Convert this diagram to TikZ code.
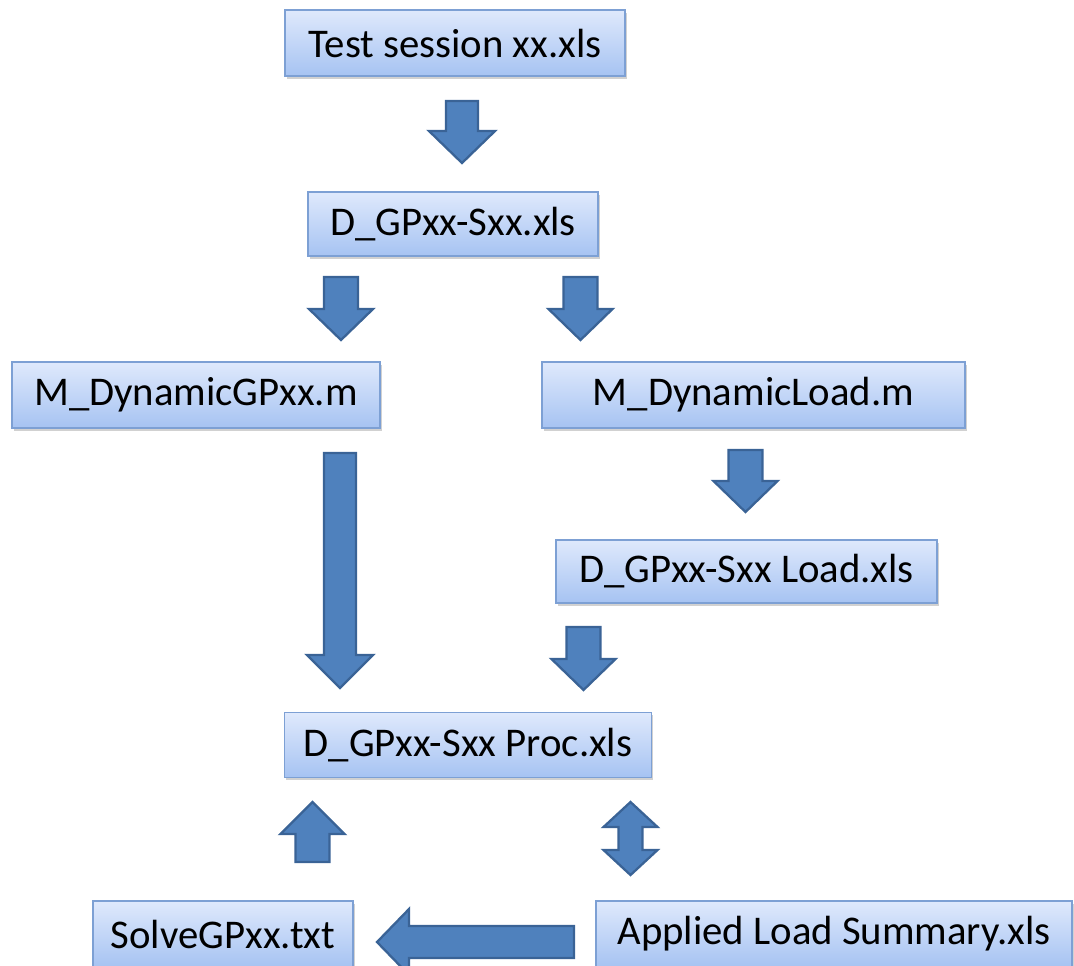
\documentclass[tikz,border=0pt]{standalone}
\usepackage{fontspec}
\setmainfont{Carlito}
\usetikzlibrary{shadows}
\definecolor{boxtop}{HTML}{DFE9FC}
\definecolor{boxbot}{HTML}{A6C3F2}
\definecolor{boxline}{HTML}{7DA0D4}
\definecolor{arrfill}{HTML}{4F81BD}
\definecolor{arrline}{HTML}{3A6396}
\tikzset{
  filebox/.style={draw=boxline, line width=0.8pt, top color=boxtop, bottom color=boxbot,
    inner sep=0pt, font=\fontsize{23.2}{28}\selectfont,
    drop shadow={shadow xshift=1pt, shadow yshift=-1.6pt, opacity=0.3, fill=black!60}},
  arrowbody/.style={fill=arrfill, draw=arrline, line width=1.3pt, line join=miter},
  pics/barrow/.style n args={4}{code={
    \filldraw[arrowbody] (0,-#2) -- (#1-#4,-#2) -- (#1-#4,-#3) -- (#1,0) -- (#1-#4,#3) -- (#1-#4,#2) -- (0,#2) -- cycle;}},
  pics/dbarrow/.style n args={4}{code={
    \filldraw[arrowbody] (0,0) -- (#4,-#3) -- (#4,-#2) -- (#1-#4,-#2) -- (#1-#4,-#3) -- (#1,0) -- (#1-#4,#3) -- (#1-#4,#2) -- (#4,#2) -- (#4,#3) -- cycle;}}
}
\begin{document}
\begin{tikzpicture}[x=0.02cm,y=-0.02cm]
\useasboundingbox (0,0) rectangle (1074,965);
\clip (0,0) rectangle (1074,965);
% boxes
\node[filebox, minimum width=6.8cm, minimum height=1.32cm] (t1) at (455,43) {Test session xx.xls};
\node[filebox, minimum width=5.8cm, minimum height=1.28cm] (t2) at (453,224) {D\_GPxx-Sxx.xls};
\node[filebox, minimum width=7.36cm, minimum height=1.32cm] (t3) at (196,395) {M\_DynamicGPxx.m};
\node[filebox, minimum width=8.46cm, minimum height=1.32cm] (t4) at (753.5,395) {M\_DynamicLoad.m};
\node[filebox, minimum width=7.62cm, minimum height=1.26cm] (t5) at (746.5,571.5) {D\_GPxx-Sxx Load.xls};
\node[filebox, minimum width=7.34cm, minimum height=1.3cm] (t6) at (468,745) {D\_GPxx-Sxx Proc.xls};
\node[filebox, minimum width=5.2cm, minimum height=1.32cm] (t7) at (223,934) {SolveGPxx.txt};
\node[filebox, minimum width=9.52cm, minimum height=1.32cm] (t8) at (834,934) {Applied Load Summary.xls};
% block arrows
\pic[rotate=-90] at (462,101) {barrow={62}{16}{33}{32}};
\pic[rotate=-90] at (341,277) {barrow={63}{17}{32}{31}};
\pic[rotate=-90] at (580.5,277) {barrow={63}{17}{32}{31}};
\pic[rotate=-90] at (745.5,450) {barrow={62}{17}{32}{31}};
\pic[rotate=-90] at (340,453) {barrow={235}{16}{33}{33}};
\pic[rotate=-90] at (583.5,627) {barrow={63}{17}{32}{31}};
\pic[rotate=90] at (312.5,862) {barrow={60}{17}{32}{32}};
\pic[rotate=-90] at (630.5,802) {dbarrow={73}{12}{27}{25}};
\pic[rotate=180] at (574,942) {barrow={197}{16}{33}{32}};
\end{tikzpicture}
\end{document}
